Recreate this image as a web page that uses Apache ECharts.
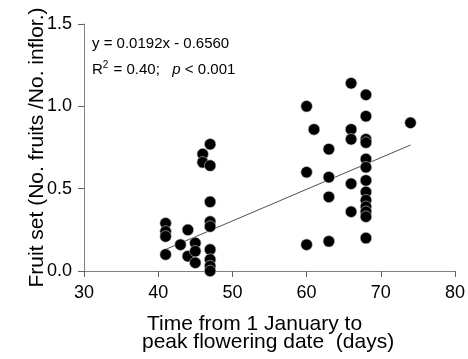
<!DOCTYPE html>
<html>
<head>
<meta charset="utf-8">
<script src="https://cdn.jsdelivr.net/npm/echarts@6/dist/echarts.min.js"></script>
<style>
  html, body { margin: 0; padding: 0; background: #fff; }
  #chart { width: 468px; height: 359px; }
</style>
</head>
<body>
<div id="chart"></div>
<script>
const FONT = 'Liberation Sans, Arial, Helvetica, sans-serif'

// days from 1 January to peak flowering, paired with fruit set
const days = [
  41, 41, 41, 41, 43, 44, 44, 45, 45, 45, 46, 46,
  47, 47, 47, 47, 47, 47, 47, 47, 47,
  60, 60, 60, 61, 63, 63, 63, 63,
  66, 66, 66, 66, 66,
  68, 68, 68, 68, 68, 68, 68, 68, 68, 68, 68, 68, 68,
  74
]
const fruitSet = [
  0.29, 0.24, 0.21, 0.10, 0.16, 0.25, 0.09, 0.17, 0.12, 0.05, 0.71, 0.66,
  0.77, 0.64, 0.42, 0.30, 0.27, 0.13, 0.07, 0.03, 0.00,
  1.00, 0.60, 0.16, 0.86, 0.74, 0.57, 0.45, 0.18,
  1.14, 0.86, 0.80, 0.53, 0.36,
  1.07, 0.94, 0.80, 0.78, 0.68, 0.63, 0.55, 0.48, 0.43, 0.39, 0.36, 0.33, 0.20,
  0.90
]

// fitted line y = 0.0192x - 0.6560, drawn over the range of the data
const fitX = [41, 74]
const fitY = [0.131, 0.765]

const xTicks = [30, 40, 50, 60, 70, 80]
const yTicks = [0, 0.5, 1.0, 1.5]

const chart = echarts.init(document.getElementById('chart'))

chart.setOption({
  animation: false,
  grid: { left: 84, right: 11, top: 24, bottom: 88 },
  xAxis: {
    type: 'value',
    min: xTicks[0],
    max: xTicks[xTicks.length - 1],
    interval: 10,
    splitLine: { show: false },
    axisLine: { lineStyle: { color: '#808080', width: 1 } },
    axisTick: { length: 6, lineStyle: { color: '#606060' } },
    axisLabel: { color: '#000', fontSize: 18, fontFamily: FONT, margin: 13 },
  },
  yAxis: {
    type: 'value',
    min: yTicks[0],
    max: yTicks[yTicks.length - 1],
    interval: 0.5,
    splitLine: { show: false },
    axisLine: { show: true, lineStyle: { color: '#808080', width: 1 } },
    axisTick: { show: true, length: 6, lineStyle: { color: '#606060' } },
    axisLabel: {
      color: '#000', fontSize: 18, fontFamily: FONT, margin: 12,
      formatter: v => v.toFixed(1),
    },
    name: 'Fruit set (No. fruits /No. inflor.)',
    nameLocation: 'middle',
    nameRotate: 90,
    nameGap: 36,
    nameMoveOverlap: false, // v6 pushes the name past the labels otherwise
    nameTextStyle: { color: '#000', fontSize: 21, fontFamily: FONT },
  },
  graphic: [
    {
      type: 'text', left: 147, top: 314,
      style: { text: 'Time from 1 January to', fontSize: 21, fontFamily: FONT, fill: '#000' },
    },
    {
      type: 'text', left: 142, top: 332,
      style: { text: 'peak flowering date  (days)', fontSize: 21, fontFamily: FONT, fill: '#000' },
    },
    {
      type: 'text', left: 92, top: 36,
      style: { text: 'y = 0.0192x - 0.6560', fontSize: 15, fontFamily: FONT, fill: '#000' },
    },
    {
      type: 'text', left: 92, top: 60,
      style: {
        text: 'R{s|2} = 0.40;   {i|p} < 0.001',
        fontSize: 15, fontFamily: FONT, fill: '#000',
        rich: {
          s: { fontSize: 10, fontFamily: FONT, padding: [0, 1, 9, 0] },
          i: { fontSize: 15, fontFamily: FONT, fontStyle: 'italic' },
        },
      },
    },
  ],
  series: [
    {
      type: 'line',
      data: fitX.map((x, i) => [x, fitY[i]]),
      symbol: 'none',
      lineStyle: { color: '#505050', width: 1 },
      z: 1,
    },
    {
      type: 'scatter',
      data: days.map((d, i) => [d, fruitSet[i]]),
      symbol: 'circle',
      symbolSize: 11.5,
      itemStyle: { color: '#000', borderColor: '#c8c8c8', borderWidth: 0.6, opacity: 1 },
      z: 2,
    },
  ],
})
</script>
</body>
</html>
